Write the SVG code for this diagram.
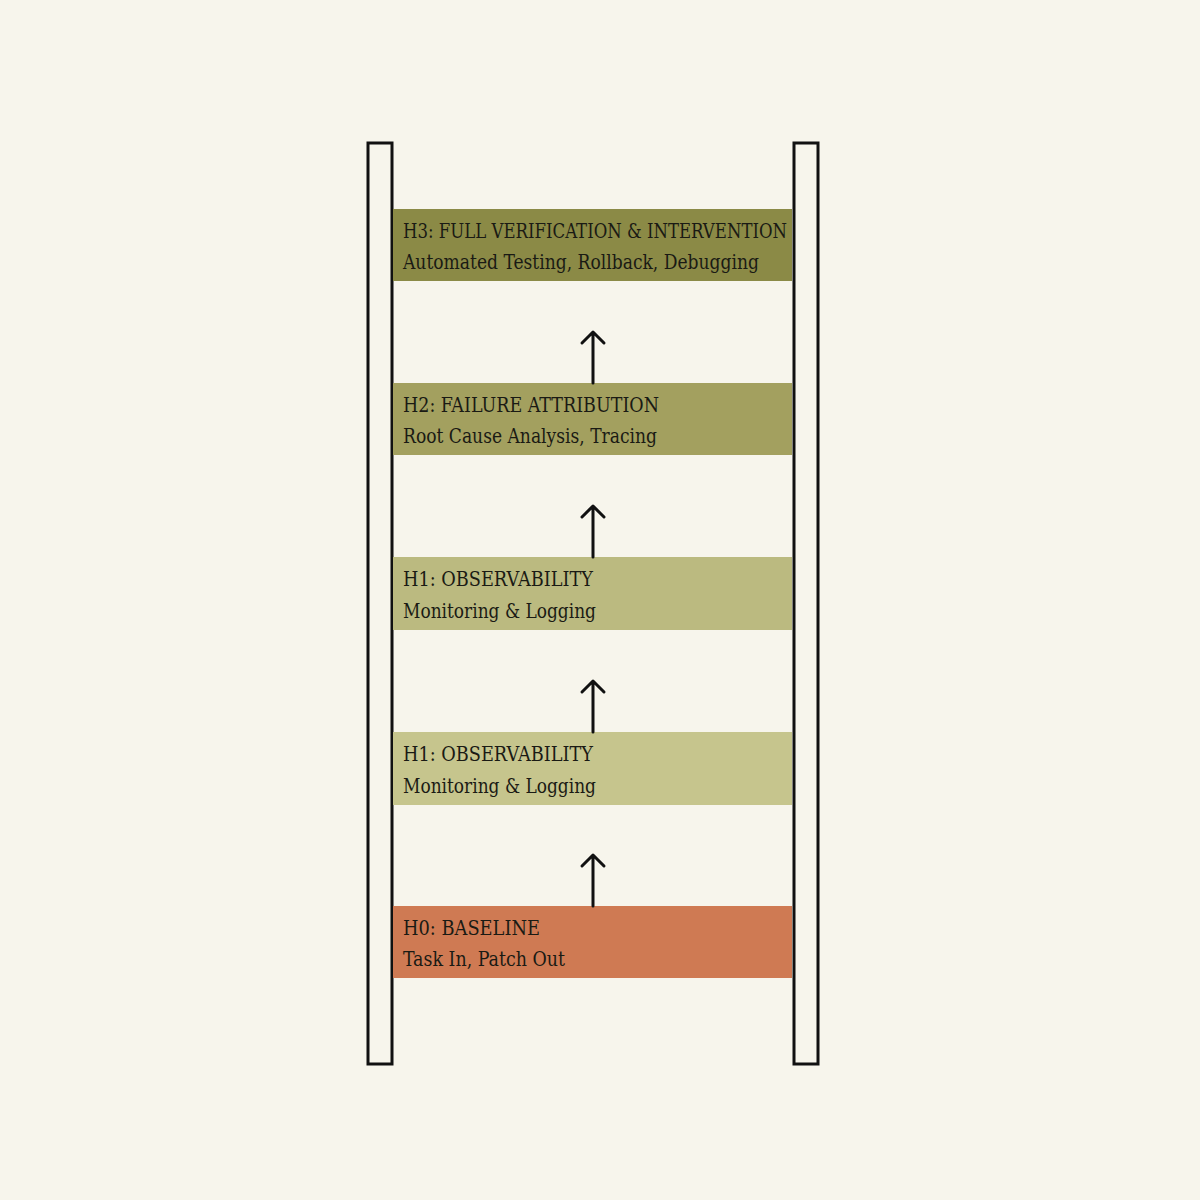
<svg xmlns="http://www.w3.org/2000/svg" width="1200" height="1200" viewBox="0 0 1200 1200">
<defs>
<style>
.rail{fill:#f7f5ec;stroke:#111;stroke-width:3}
.t{font-family:"DejaVu Serif Condensed","Liberation Serif",serif;font-size:20px;fill:#1a1a14}
.arr{stroke:#111;stroke-width:3;fill:none;stroke-linecap:round;stroke-linejoin:round}
</style>
</defs>
<rect width="1200" height="1200" fill="#f7f5ec"/>
<g id="rails">
<rect class="rail" x="368" y="143" width="24" height="921"/>
<rect class="rail" x="794" y="143" width="24" height="921"/>
</g>
<g id="h3">
<rect x="393" y="209" width="399" height="72" fill="#8b8a46"/>
<text class="t" x="403" y="238" textLength="384" lengthAdjust="spacingAndGlyphs">H3: FULL VERIFICATION &amp; INTERVENTION</text>
<text class="t" x="403" y="269" textLength="356" lengthAdjust="spacingAndGlyphs">Automated Testing, Rollback, Debugging</text>
</g>
<g id="h2">
<rect x="393" y="383" width="399" height="72" fill="#a3a05f"/>
<text class="t" x="403" y="412" textLength="256" lengthAdjust="spacingAndGlyphs">H2: FAILURE ATTRIBUTION</text>
<text class="t" x="403" y="443" textLength="254" lengthAdjust="spacingAndGlyphs">Root Cause Analysis, Tracing</text>
</g>
<g id="h1a">
<rect x="393" y="557" width="399" height="73" fill="#bbba80"/>
<text class="t" x="403" y="586" textLength="190" lengthAdjust="spacingAndGlyphs">H1: OBSERVABILITY</text>
<text class="t" x="403" y="618" textLength="193" lengthAdjust="spacingAndGlyphs">Monitoring &amp; Logging</text>
</g>
<g id="h1b">
<rect x="393" y="732" width="399" height="73" fill="#c6c58d"/>
<text class="t" x="403" y="761" textLength="190" lengthAdjust="spacingAndGlyphs">H1: OBSERVABILITY</text>
<text class="t" x="403" y="793" textLength="193" lengthAdjust="spacingAndGlyphs">Monitoring &amp; Logging</text>
</g>
<g id="h0">
<rect x="393" y="906" width="399" height="72" fill="#cf7a53"/>
<text class="t" x="403" y="935" textLength="137" lengthAdjust="spacingAndGlyphs">H0: BASELINE</text>
<text class="t" x="403" y="966" textLength="162" lengthAdjust="spacingAndGlyphs">Task In, Patch Out</text>
</g>
<g id="connectors">
<path class="arr" d="M593 383V332M582 343L593 332L604 343"/>
<path class="arr" d="M593 557V506M582 517L593 506L604 517"/>
<path class="arr" d="M593 732V681M582 692L593 681L604 692"/>
<path class="arr" d="M593 906V855M582 866L593 855L604 866"/>
</g>
</svg>
